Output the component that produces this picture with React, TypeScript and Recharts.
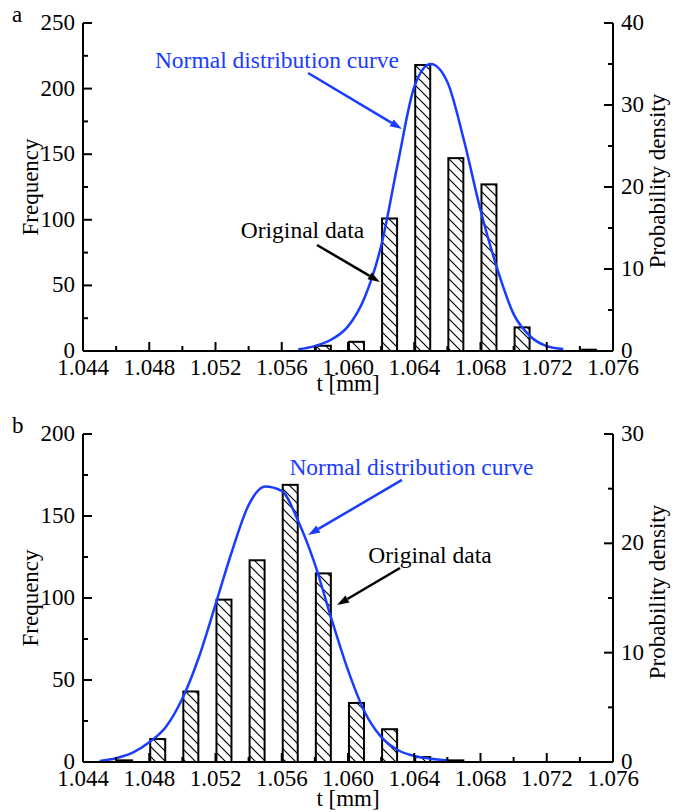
import {
  Bar,
  ComposedChart,
  Label,
  Line,
  ReferenceDot,
  ReferenceLine,
  XAxis,
  YAxis,
} from 'recharts';

const FONT = "'Liberation Serif', 'Times New Roman', serif";
const BLUE = '#1a3cff';
const FS = 23;
const NOTE_FS = 23.5;

// shared t axis [mm]
const xMajor = [1.044, 1.048, 1.052, 1.056, 1.06, 1.064, 1.068, 1.072, 1.076];
const xMinor = [1.046, 1.05, 1.054, 1.058, 1.062, 1.066, 1.07, 1.074];

// panel a
const binsA = [1.0585, 1.0605, 1.0625, 1.0645, 1.0665, 1.0685, 1.0705, 1.0745];
const freqA = [4, 7, 101, 218, 147, 127, 18, 1];
const curveTA = [1.057, 1.058, 1.059, 1.06, 1.061, 1.062, 1.063, 1.064, 1.065, 1.066, 1.067, 1.068, 1.069, 1.07, 1.071, 1.072, 1.073];
const densA = [0.2, 0.6, 1.4, 3.0, 6.5, 12.8, 22.8, 32.2, 35.0, 32.8, 25.7, 17.2, 10.1, 4.5, 1.8, 0.6, 0.25];
const freqMajorA = [0, 50, 100, 150, 200, 250];
const freqMinorA = [25, 75, 125, 175, 225];
const densMajorA = [0, 10, 20, 30, 40];
const densMinorA = [5, 15, 25, 35];

// panel b
const binsB = [1.0465, 1.0485, 1.0505, 1.0525, 1.0545, 1.0565, 1.0585, 1.0605, 1.0625, 1.0645, 1.0665];
const freqB = [1, 14, 43, 99, 123, 169, 115, 36, 20, 3, 1];
const curveTB = [1.045, 1.046, 1.047, 1.048, 1.049, 1.05, 1.051, 1.052, 1.053, 1.054, 1.055, 1.056, 1.057, 1.058, 1.059, 1.06, 1.061, 1.062, 1.063, 1.064, 1.065, 1.066];
const densB = [0.1, 0.35, 0.85, 1.8, 3.2, 5.8, 9.6, 14.4, 19.3, 23.5, 25.2, 24.8, 22.0, 18.1, 13.1, 8.4, 4.6, 2.3, 1.1, 0.55, 0.3, 0.15];
const freqMajorB = [0, 50, 100, 150, 200];
const freqMinorB = [25, 75, 125, 175];
const densMajorB = [0, 10, 20, 30];
const densMinorB = [5, 15, 25];

type Note = { text: string; color: string; at: [number, number]; from: [number, number]; to: [number, number] };

const notesA: Note[] = [
  { text: 'Normal distribution curve', color: BLUE, at: [1.05571, 221.8], from: [1.05759, 211.9], to: [1.06326, 169.2] },
  { text: 'Original data', color: '#000', at: [1.05725, 92.2], from: [1.05813, 80.8], to: [1.06193, 52.6] },
];
const notesB: Note[] = [
  { text: 'Normal distribution curve', color: BLUE, at: [1.06383, 179.9], from: [1.06326, 172], to: [1.05759, 138.4] },
  { text: 'Original data', color: '#000', at: [1.06495, 126.2], from: [1.06314, 118.3], to: [1.05934, 95.7] },
];

const axisLine = { stroke: '#000', strokeWidth: 2 };
const isIn = (list: number[], v: number) => list.some((m) => Math.abs(m - v) < 1e-9);

const X_TM = 8;
const Y_TM = 8;

function xTick(p: any) {
  const v = p.payload.value;
  const major = isIn(xMajor, v);
  const ay = p.y - X_TM;
  return (
    <g>
      <line x1={p.x} x2={p.x} y1={ay} y2={ay - (major ? 9 : 5)} stroke="#000" strokeWidth={2} />
      {major && (
        <text x={p.x} y={p.y} dy="0.71em" textAnchor="middle" fontSize={FS} fontFamily={FONT} fill="#000">
          {v.toFixed(3)}
        </text>
      )}
    </g>
  );
}

function yTick(majors: number[], side: 'left' | 'right') {
  return (p: any) => {
    const v = p.payload.value;
    const major = isIn(majors, v);
    const ax = side === 'left' ? p.x + Y_TM : p.x - Y_TM;
    const len = (major ? 9 : 5) * (side === 'left' ? 1 : -1);
    return (
      <g>
        <line x1={ax} x2={ax + len} y1={p.y} y2={p.y} stroke="#000" strokeWidth={2} />
        {major && (
          <text
            x={p.x}
            y={p.y}
            dy="0.3em"
            textAnchor={side === 'left' ? 'end' : 'start'}
            fontSize={FS}
            fontFamily={FONT}
            fill="#000"
          >
            {v}
          </text>
        )}
      </g>
    );
  };
}

// outlined, hatched bar of fixed width centred on the bin
function HatchBar(props: any) {
  const { x, y, width, height, fill } = props;
  if (!height) return null;
  const cx = x + width / 2;
  return <rect x={cx - 7.5} y={y} width={15} height={height} fill={fill} stroke="#000" strokeWidth={2} />;
}

function Arrow(props: any) {
  const { x1, y1, x2, y2, stroke } = props;
  const ang = Math.atan2(y2 - y1, x2 - x1);
  const len = 12;
  const half = 4;
  const bx = x2 - len * Math.cos(ang);
  const by = y2 - len * Math.sin(ang);
  const px = -Math.sin(ang) * half;
  const py = Math.cos(ang) * half;
  return (
    <g>
      <line x1={x1} y1={y1} x2={bx} y2={by} stroke={stroke} strokeWidth={2.5} />
      <polygon points={`${x2},${y2} ${bx + px},${by + py} ${bx - px},${by - py}`} fill={stroke} />
    </g>
  );
}

interface PanelProps {
  letter: string;
  bins: number[];
  freq: number[];
  curveT: number[];
  dens: number[];
  freqMajor: number[];
  freqMinor: number[];
  densMajor: number[];
  densMinor: number[];
  notes: Note[];
  top: number;
  bottom: number;
  xLabelOffset: number;
}

function Panel({
  letter,
  bins,
  freq,
  curveT,
  dens,
  freqMajor,
  freqMinor,
  densMajor,
  densMinor,
  notes,
  top,
  bottom,
  xLabelOffset,
}: PanelProps) {
  const data = bins.map((t, i) => ({ t, freq: freq[i] }));
  const curve = curveT.map((t, i) => ({ t, dens: dens[i] }));
  const xTicks = [...xMajor, ...xMinor].sort((a, b) => a - b);
  const fTicks = [...freqMajor, ...freqMinor].sort((a, b) => a - b);
  const dTicks = [...densMajor, ...densMinor].sort((a, b) => a - b);
  const hatch = `hatch-${letter}`;
  const xDomain = [xMajor[0], xMajor[xMajor.length - 1]];

  return (
    <ComposedChart width={685} height={406} data={data} margin={{ top, right: 22, bottom, left: 23 }}>
      <defs>
        <pattern id={hatch} patternUnits="userSpaceOnUse" width={10} height={10}>
          <rect width={10} height={10} fill="#fff" />
          <path d="M0,0 L10,10 M-1,9 L1,11 M9,-1 L11,1" stroke="#000" strokeWidth={1.2} />
        </pattern>
      </defs>
      <text x={12} y={top - 1} fontSize={FS} fontFamily={FONT} fill="#000">
        {letter}
      </text>
      <XAxis
        dataKey="t"
        type="number"
        domain={xDomain}
        ticks={xTicks}
        interval={0}
        allowDataOverflow
        height={45}
        tickSize={0}
        tickMargin={X_TM}
        tickLine={false}
        axisLine={axisLine}
        tick={xTick}
      >
        <Label value="t [mm]" position="insideBottom" offset={xLabelOffset} fill="#000" fontSize={FS} fontFamily={FONT} />
      </XAxis>
      <XAxis
        xAxisId="top"
        orientation="top"
        type="number"
        domain={xDomain}
        allowDataOverflow
        height={0}
        tick={false}
        tickLine={false}
        axisLine={axisLine}
      />
      <YAxis
        yAxisId="f"
        width={60}
        domain={[0, freqMajor[freqMajor.length - 1]]}
        ticks={fTicks}
        interval={0}
        allowDataOverflow
        tickSize={0}
        tickMargin={Y_TM}
        tickLine={false}
        axisLine={axisLine}
        tick={yTick(freqMajor, 'left')}
      >
        <Label value="Frequency" angle={-90} position="center" dx={-23} fill="#000" fontSize={FS} fontFamily={FONT} />
      </YAxis>
      <YAxis
        yAxisId="d"
        orientation="right"
        width={50}
        domain={[0, densMajor[densMajor.length - 1]]}
        ticks={dTicks}
        interval={0}
        allowDataOverflow
        tickSize={0}
        tickMargin={Y_TM}
        tickLine={false}
        axisLine={axisLine}
        tick={yTick(densMajor, 'right')}
      >
        <Label
          value="Probability density"
          angle={-90}
          position="center"
          dx={19}
          dy={-6}
          fill="#000"
          fontSize={FS}
          fontFamily={FONT}
        />
      </YAxis>
      <Bar
        dataKey="freq"
        yAxisId="f"
        fill={`url(#${hatch})`}
        shape={HatchBar}
        isAnimationActive={false}
      />
      <Line
        data={curve}
        dataKey="dens"
        yAxisId="d"
        type="monotone"
        stroke={BLUE}
        strokeWidth={2.5}
        dot={false}
        activeDot={false}
        isAnimationActive={false}
      />
      {notes.map((n) => (
        <ReferenceLine
          key={`l-${n.text}`}
          yAxisId="f"
          segment={[
            { x: n.from[0], y: n.from[1] },
            { x: n.to[0], y: n.to[1] },
          ]}
          stroke={n.color}
          shape={Arrow}
        />
      ))}
      {notes.map((n) => (
        <ReferenceDot
          key={`t-${n.text}`}
          yAxisId="f"
          x={n.at[0]}
          y={n.at[1]}
          r={0}
          fill="none"
          stroke="none"
          label={{ value: n.text, position: 'center', fill: n.color, fontSize: NOTE_FS, fontFamily: FONT }}
        />
      ))}
    </ComposedChart>
  );
}

export default function App() {
  return (
    <div style={{ position: 'absolute', left: 0, top: 0, width: 685, height: 812, background: '#fff' }}>
      <Panel
        letter="a"
        bins={binsA}
        freq={freqA}
        curveT={curveTA}
        dens={densA}
        freqMajor={freqMajorA}
        freqMinor={freqMinorA}
        densMajor={densMajorA}
        densMinor={densMinorA}
        notes={notesA}
        top={23}
        bottom={10}
        xLabelOffset={5}
      />
      <Panel
        letter="b"
        bins={binsB}
        freq={freqB}
        curveT={curveTB}
        dens={densB}
        freqMajor={freqMajorB}
        freqMinor={freqMinorB}
        densMajor={densMajorB}
        densMinor={densMinorB}
        notes={notesB}
        top={28}
        bottom={5}
        xLabelOffset={1}
      />
    </div>
  );
}
